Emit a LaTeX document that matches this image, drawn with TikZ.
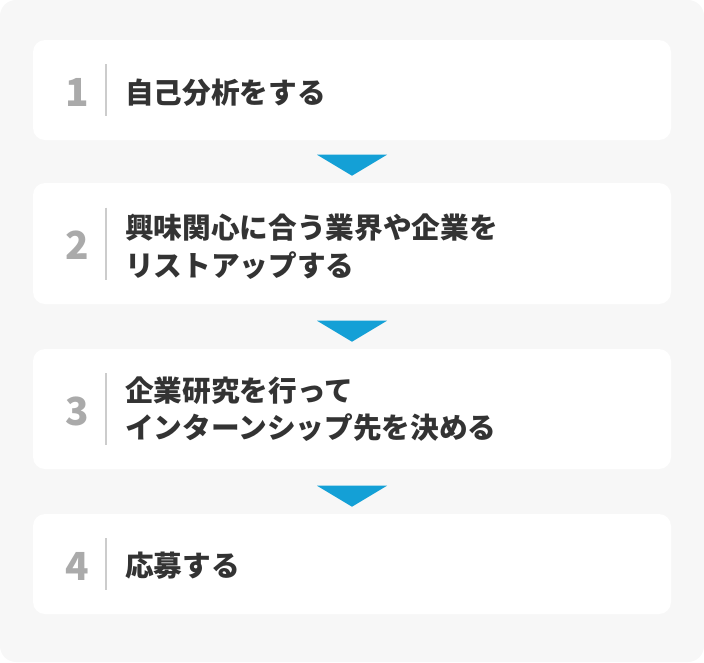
\documentclass[tikz,border=0pt]{standalone}
\usepackage{fontspec}
\newfontfamily\cjk{Noto Sans CJK JP}
\usetikzlibrary{calc,positioning}
\definecolor{bggrey}{HTML}{F7F7F7}
\definecolor{stepblue}{HTML}{14A0D6}
\definecolor{numgrey}{HTML}{AAAAAA}
\definecolor{txtgrey}{HTML}{333333}
\definecolor{sepgrey}{HTML}{CCCCCC}

\begin{document}
\begin{tikzpicture}[x=0.75pt,y=-0.75pt,font=\cjk\bfseries]

\tikzset{card/.style={fill=white,rounded corners=9pt,minimum width=478.5pt,inner sep=0pt},
numnode/.style={color=numgrey,font=\cjk\bfseries\fontsize{29pt}{29pt}\selectfont,inner sep=0pt},
txtnode/.style={color=txtgrey,font=\cjk\bfseries\fontsize{21.5pt}{28pt}\selectfont,anchor=west,align=left,inner sep=0pt},
sepline/.style={sepgrey,line width=1.5pt},
arrowtri/.style={fill=stepblue}}

% Background
\useasboundingbox (0,0) rectangle (704,662);
\fill[bggrey,rounded corners=12pt] (0,0) rectangle (704,662);

% Cards
\foreach \i/\y/\h/\l in {1/90/75/26, 2/243.5/90.75/36, 3/409/90/36, 4/564/75/26} {
  \node[card,minimum height=\h pt] (c\i) at (352,\y) {};
  \node[numnode] (n\i) at ($(c\i.center)+(-275,2)$) {\i};
  \draw[sepline] ($(c\i.center)+(-246,-\l)$) -- ($(c\i.center)+(-246,\l)$);
}

% Step texts
\node[txtnode] (t1) at ($(c1.center)+(-227,3)$) {自己分析をする};
\node[txtnode] (t2) at ($(c2.center)+(-227,3)$) {興味関心に合う業界や企業を\\リストアップする};
\node[txtnode] (t3) at ($(c3.center)+(-227,0)$) {企業研究を行って\\インターンシップ先を決める};
\node[txtnode] (t4) at ($(c4.center)+(-227,2)$) {応募する};

% Arrows between cards
\foreach \a/\b in {1/2, 2/3, 3/4} {
  \coordinate (m\a) at ($(c\b.north)+(0,-28)$);
  \fill[arrowtri] ($(m\a)+(-35,0)$) -- ($(m\a)+(35,0)$) -- ($(m\a)+(0,21)$) -- cycle;
}

\end{tikzpicture}
\end{document}
